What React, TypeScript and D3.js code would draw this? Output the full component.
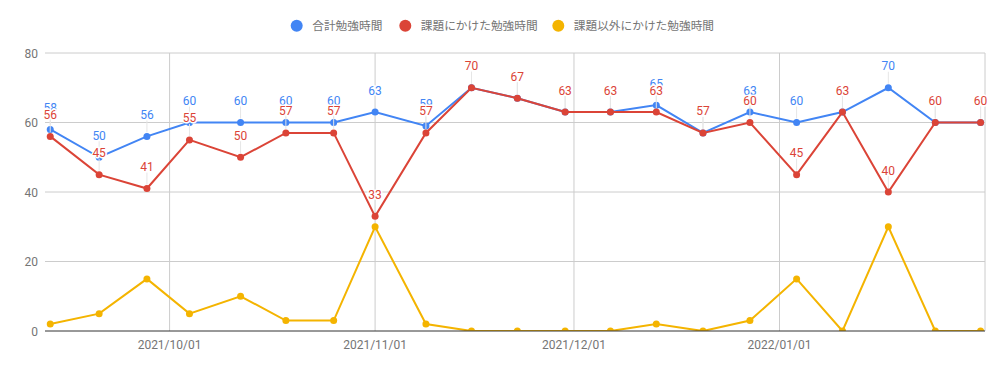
import React from "react";
import * as d3 from "d3";

const dates: string[] = [
  "2021-09-13T00:00", "2021-09-20T09:00", "2021-09-27T14:00", "2021-10-04T00:00",
  "2021-10-11T17:00", "2021-10-18T13:00", "2021-10-25T18:00", "2021-11-01T00:00",
  "2021-11-08T16:00", "2021-11-15T13:00", "2021-11-22T11:00", "2021-11-29T16:00",
  "2021-12-06T12:00", "2021-12-13T10:00", "2021-12-20T11:00", "2021-12-27T13:00",
  "2022-01-03T14:00", "2022-01-10T12:00", "2022-01-17T10:00", "2022-01-24T12:00",
  "2022-01-31T08:00",
];
const totalStudy: number[] = [58, 50, 56, 60, 60, 60, 60, 63, 59, 70, 67, 63, 63, 65, 57, 63, 60, 63, 70, 60, 60];
const assignmentStudy: number[] = [56, 45, 41, 55, 50, 57, 57, 33, 57, 70, 67, 63, 63, 63, 57, 60, 45, 63, 40, 60, 60];
const otherStudy: number[] = [2, 5, 15, 5, 10, 3, 3, 30, 2, 0, 0, 0, 0, 2, 0, 3, 15, 0, 30, 0, 0];
const seriesNames: string[] = ["合計勉強時間", "課題にかけた勉強時間", "課題以外にかけた勉強時間"];
const yTicks: number[] = [0, 20, 40, 60, 80];
const xTickDates: string[] = ["2021-10-01", "2021-11-01", "2021-12-01", "2022-01-01", "2022-02-01"];
const xTickLabels: string[] = ["2021/10/01", "2021/11/01", "2021/12/01", "2022/01/01", ""];

const W = 1005;
const H = 371;
const colors = ["#4285F4", "#DB4437", "#F4B400"];
const FONT = "Roboto, 'Noto Sans CJK JP', sans-serif";

export default function App() {
  const parsed = dates.map((d) => new Date(d));
  const x = d3
    .scaleTime()
    .domain([new Date(2021, 8, 12, 5), new Date(2022, 1, 1)])
    .range([45, 985]);
  const y = d3.scaleLinear().domain([0, 80]).range([331, 53]);

  const series = [totalStudy, assignmentStudy, otherStudy];
  const showLabels = [true, true, false];
  const line = d3
    .line<number>()
    .x((_, i) => x(parsed[i]))
    .y((v) => y(v));

  const tickDates = xTickDates.map((s) => {
    const [yy, mm, dd] = s.split("-").map(Number);
    return new Date(yy, mm - 1, dd);
  });

  const legendX = [296.7, 405.3, 558.3];

  return (
    <svg
      width={W}
      height={H}
      style={{ position: "absolute", left: 0, top: 0, background: "#fff" }}
      fontFamily={FONT}
    >
      <defs>
        <clipPath id="plotclip">
          <rect x={0} y={0} width={W} height={331} />
        </clipPath>
      </defs>
      <rect x={0} y={0} width={W} height={H} fill="#fff" />
      {/* legend */}
      {seriesNames.map((n, i) => (
        <g key={n}>
          <circle cx={legendX[i]} cy={25.7} r={6} fill={colors[i]} />
          <text x={legendX[i] + 15.5} y={30} fontSize={11.7} fill="#757575">
            {n}
          </text>
        </g>
      ))}
      {/* horizontal grid */}
      {yTicks.map((t) => (
        <g key={t}>
          {t !== 0 && (
            <line x1={45} x2={985} y1={y(t)} y2={y(t)} stroke="#cccccc" strokeWidth={1} />
          )}
          <text x={38} y={y(t) + 4.5} textAnchor="end" fontSize={12} fill="#757575">
            {t}
          </text>
        </g>
      ))}
      {/* vertical grid */}
      {tickDates.map((d, i) => (
        <g key={i}>
          <line x1={x(d)} x2={x(d)} y1={53} y2={331} stroke="#cccccc" strokeWidth={1} />
          <text x={x(d)} y={349} textAnchor="middle" fontSize={12} fill="#757575">
            {xTickLabels[i]}
          </text>
        </g>
      ))}
      {/* series */}
      <g clipPath="url(#plotclip)">
        {series.map((s, si) => (
          <g key={si}>
            <path d={line(s) || ""} fill="none" stroke={colors[si]} strokeWidth={2} />
            {s.map((v, i) => (
              <circle key={i} cx={x(parsed[i])} cy={y(v)} r={3.5} fill={colors[si]} />
            ))}
          </g>
        ))}
      </g>
      {/* baseline */}
      <line x1={45} x2={985} y1={y(0)} y2={y(0)} stroke="#333333" strokeWidth={1} />
      {/* annotations */}
      {series.map((s, si) =>
        showLabels[si] ? (
          <g key={"lab" + si}>
            {s.map((v, i) => (
              <g key={i}>
                <line
                  x1={x(parsed[i])}
                  x2={x(parsed[i])}
                  y1={y(v) - 4}
                  y2={y(v) - 16}
                  stroke="#e6e6e6"
                  strokeWidth={1}
                />
                <text
                  x={x(parsed[i])}
                  y={y(v) - 17.5}
                  textAnchor="middle"
                  fontSize={12}
                  fill={colors[si]}
                  stroke="#ffffff"
                  strokeWidth={3}
                  paintOrder="stroke"
                  strokeLinejoin="round"
                >
                  {v}
                </text>
              </g>
            ))}
          </g>
        ) : null
      )}
    </svg>
  );
}
